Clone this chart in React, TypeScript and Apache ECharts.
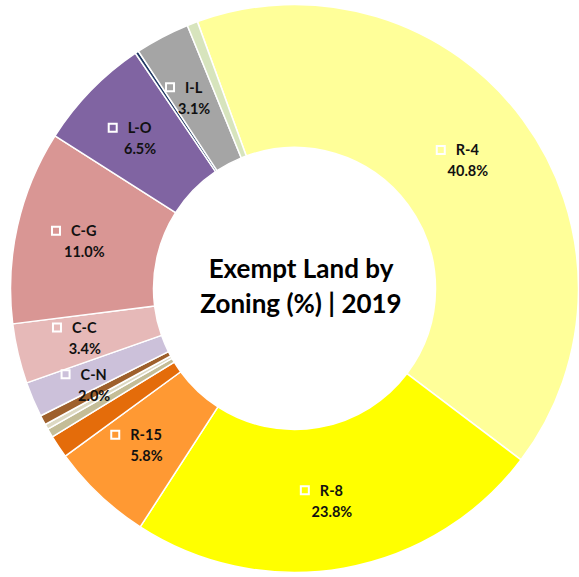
import React, { useEffect, useRef } from "react";
import * as echarts from "echarts";

const categories = ["R-4", "R-8", "R-15", "R-20", "R-40", "R-MH", "R-MU", "C-N", "C-C", "C-G", "L-O", "I-H", "I-L", "O-I"];
const values = [40.8, 23.8, 5.8, 1.3, 0.5, 0.3, 0.55, 2.0, 3.4, 11.0, 6.5, 0.2, 3.1, 0.6];
const showLabel = [true, true, true, false, false, false, false, true, true, true, true, false, true, false];
const colors = ["#FFFF99", "#FFFF00", "#FF9933", "#E46C0A", "#C4BD97", "#DDD9C3", "#9E602C", "#CCC1DA", "#E6B9B8", "#D99694", "#8064A2", "#1F3864", "#A5A5A5", "#D7E4BD"];
const titleText = "Exempt Land by\nZoning (%) | 2019";

export default function App() {
  const ref = useRef<HTMLDivElement>(null);
  useEffect(() => {
    document.body.style.margin = "0";
    const chart = echarts.init(ref.current!, null, { renderer: "svg" });
    const font = "Lato, 'Open Sans', sans-serif";
    chart.setOption({
      animation: false,
      backgroundColor: "#ffffff",
      title: {
        text: titleText,
        left: 296,
        top: 245,
        textAlign: "center",
        textStyle: {
          fontFamily: font,
          fontWeight: "bold",
          fontSize: 26,
          lineHeight: 35,
          color: "#000000",
        },
      },
      series: [
        {
          type: "pie",
          center: [294.5, 288.5],
          radius: [141, 284],
          startAngle: 110,
          clockwise: true,
          avoidLabelOverlap: false,
          labelLayout: { hideOverlap: false },
          itemStyle: { borderColor: "#ffffff", borderWidth: 1.5 },
          label: {
            position: "inside",
            fontFamily: font,
            formatter: (p: any) =>
              `{box| }{gap| }{name|${p.name}}{sp| }\n{pct|${p.value.toFixed(1)}%}`,
            rich: {
              box: { width: 8, height: 8, borderColor: "#ffffff", borderWidth: 1, backgroundColor: "transparent" },
              gap: { width: 11 },
              sp: { width: 20 },
              name: { fontFamily: font, fontWeight: "bold", fontSize: 14.5, color: "#111111", lineHeight: 21 },
              pct: { fontFamily: font, fontWeight: "bold", fontSize: 14.5, color: "#111111", lineHeight: 21 },
            },
          },
          labelLine: { show: false },
          emphasis: { disabled: true },
          data: categories.map((c, i) => ({
            name: c,
            value: values[i],
            itemStyle: { color: colors[i] },
            label: c === "C-N" ? { show: true, offset: [-2, 12] } : { show: showLabel[i] },
          })),
        },
      ],
    });
    return () => chart.dispose();
  }, []);
  return <div ref={ref} style={{ width: 579, height: 577 }} />;
}
